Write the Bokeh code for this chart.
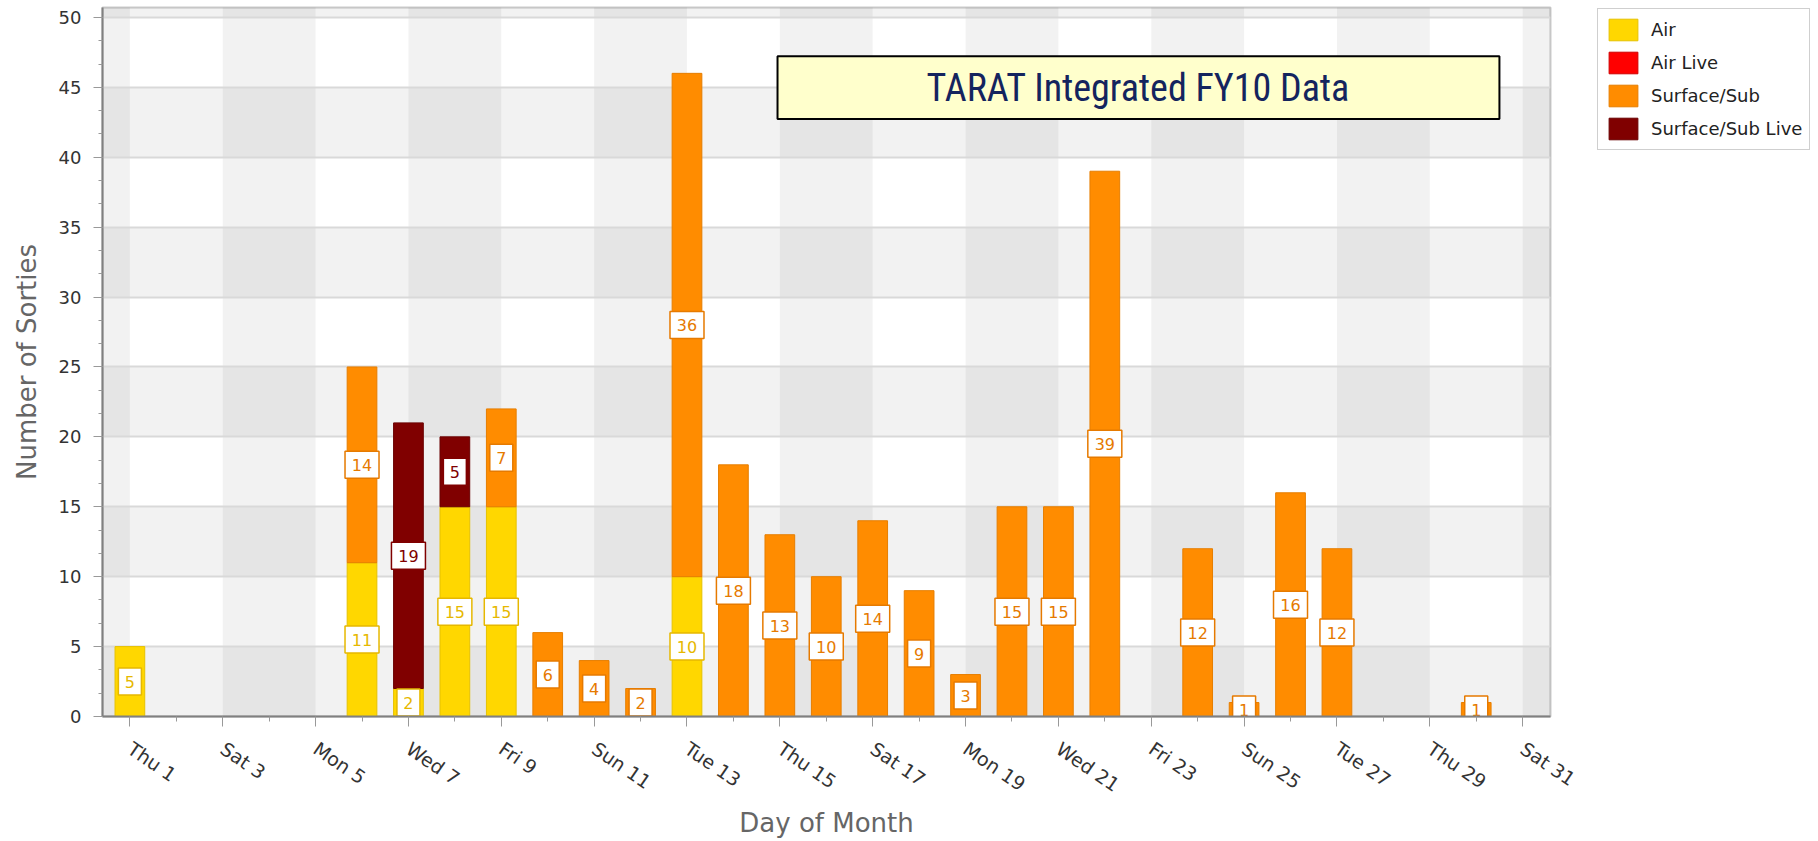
import numpy as np
from bokeh.plotting import figure
from bokeh.layouts import row
from bokeh.models import (ColumnDataSource, FixedTicker, Legend, LegendItem, Range1d,
                          BoxAnnotation, Label, SingleIntervalTicker)
from bokeh.core.properties import value
from bokeh.embed import file_html
from bokeh.resources import INLINE

# ---------------- data ----------------
days = list(range(1, 32))
air          = [5, 0, 0, 0, 0, 11, 2, 15, 15, 0, 0, 0, 10, 0, 0, 0, 0, 0, 0, 0, 0, 0, 0, 0, 0, 0, 0, 0, 0, 0, 0]
air_live     = [0] * 31
surface      = [0, 0, 0, 0, 0, 14, 0, 0, 7, 6, 4, 2, 36, 18, 13, 10, 14, 9, 3, 15, 15, 39, 0, 12, 1, 16, 12, 0, 0, 1, 0]
surface_live = [0, 0, 0, 0, 0, 0, 19, 5, 0, 0, 0, 0, 0, 0, 0, 0, 0, 0, 0, 0, 0, 0, 0, 0, 0, 0, 0, 0, 0, 0, 0]

series_names = ["Air", "Air Live", "Surface/Sub", "Surface/Sub Live"]
tick_days = [1, 3, 5, 7, 9, 11, 13, 15, 17, 19, 21, 23, 25, 27, 29, 31]
tick_labels = ["Thu 1", "Sat 3", "Mon 5", "Wed 7", "Fri 9", "Sun 11", "Tue 13", "Thu 15",
               "Sat 17", "Mon 19", "Wed 21", "Fri 23", "Sun 25", "Tue 27", "Thu 29", "Sat 31"]
minor_days = [2, 4, 6, 8, 10, 12, 14, 16, 18, 20, 22, 24, 26, 28, 30]
title_text = "TARAT Integrated FY10 Data"

# ---------------- styles ----------------
fills = ["#FFD700", "#FF0000", "#FF8C00", "#800000"]
lines = ["#E6C200", "#D00000", "#E67E00", "#6A0000"]
label_colors = ["#E6B800", "#E00000", "#E67A00", "#800000"]
FONT = "DejaVu Sans"

W_MAIN, W_LEG, H = 1596, 222, 841
p = figure(width=W_MAIN, height=H, output_backend="svg", toolbar_location=None,
           x_range=Range1d(0.41, 31.6), y_range=Range1d(0, 50.71),
           min_border_left=102, min_border_right=46, min_border_top=7, min_border_bottom=121)
p.background_fill_color = "white"
p.border_fill_color = "white"
p.outline_line_color = "#cccccc"
p.outline_line_width = 2

# background alternating bands
xb = np.arange(-1, 33, 4)
p.quad(left=xb, right=xb + 2, bottom=-10, top=60, fill_color="black", fill_alpha=0.05,
       line_color=None, level="image")
yb = np.arange(0, 51, 10)
p.quad(left=-5, right=40, bottom=yb, top=yb + 5, fill_color="black", fill_alpha=0.05,
       line_color=None, level="image")

# stacked bars
base = np.zeros(len(days))
x_arr = np.array(days, dtype=float)
label_sources = []
for name, vals, fc, lc in zip(series_names, [air, air_live, surface, surface_live], fills, lines):
    v = np.array(vals, dtype=float)
    m = v > 0
    bar_src = ColumnDataSource(dict(x=x_arr,
                                    bottom=np.where(m, base, np.nan),
                                    top=np.where(m, base + v, np.nan)))
    p.vbar(x="x", bottom="bottom", top="top", width=0.64, source=bar_src,
           fill_color=fc, line_color=lc, line_width=1)
    labs = [str(int(t)) for t in v[m]]
    label_sources.append(ColumnDataSource(dict(x=x_arr[m], mid=(base + v / 2)[m], lab=labs,
                                               bw=[12 + 11 * len(s) for s in labs])))
    base = base + v

for src, tc in zip(label_sources, label_colors):
    p.rect(x="x", y="mid", width="bw", height=27, width_units="screen", height_units="screen",
           source=src, fill_color="white", line_color=tc, line_width=1.5)
    p.text(x="x", y="mid", text="lab", source=src, text_align="center", text_baseline="middle",
           text_font=value(FONT), text_font_size="16px", text_color=tc)

# title box
box = BoxAnnotation(left=14.95, right=30.5, bottom=42.74, top=47.23,
                    fill_color="#FFFFCC", fill_alpha=1, line_color="black", line_alpha=1,
                    line_width=2)
p.add_layout(box)
p.add_layout(Label(x=22.72, y=44.98, text=title_text, text_align="center", text_baseline="middle",
                   text_font="Liberation Sans Narrow, Roboto Condensed, Roboto",
                   text_font_size="38px", text_color="#14245E"))

# axes
xa = p.xaxis[0]
xa.ticker = FixedTicker(ticks=tick_days, minor_ticks=minor_days)
xa.major_label_overrides = dict(zip(tick_days, tick_labels))
xa.major_label_orientation = -0.6
xa.major_label_text_font = FONT
xa.major_label_text_font_size = "19px"
xa.major_label_text_color = "#333333"
xa.major_label_standoff = 20
xa.major_tick_out = 10
xa.major_tick_in = 0
xa.minor_tick_out = 5
xa.minor_tick_in = 0
xa.axis_line_color = "#808080"
xa.axis_line_width = 2
xa.major_tick_line_color = "#999999"
xa.minor_tick_line_color = "#999999"
xa.axis_label = "Day of Month"
xa.axis_label_text_font = FONT
xa.axis_label_text_font_size = "26px"
xa.axis_label_text_font_style = "normal"
xa.axis_label_text_color = "#666666"
xa.axis_label_standoff = 0

ya = p.yaxis[0]
ya.ticker = SingleIntervalTicker(interval=5, num_minor_ticks=3)
ya.major_label_text_font = FONT
ya.major_label_text_font_size = "18px"
ya.major_label_text_color = "#333333"
ya.major_label_standoff = 12
ya.major_tick_out = 9
ya.major_tick_in = 0
ya.minor_tick_out = 4
ya.minor_tick_in = 0
ya.axis_line_color = "#808080"
ya.axis_line_width = 2
ya.major_tick_line_color = "#999999"
ya.minor_tick_line_color = "#999999"
ya.axis_label = "Number of Sorties"
ya.axis_label_text_font = FONT
ya.axis_label_text_font_size = "26px"
ya.axis_label_text_font_style = "normal"
ya.axis_label_text_color = "#666666"
ya.axis_label_standoff = 14

p.xgrid.visible = False
p.ygrid.grid_line_color = "#d9d9d9"
p.ygrid.grid_line_width = 2

# legend panel (separate figure placed to the right of the chart)
pl = figure(width=W_LEG, height=H, output_backend="svg", toolbar_location=None,
            x_range=Range1d(0, 1), y_range=Range1d(0, 1), x_axis_type=None, y_axis_type=None,
            min_border_left=0, min_border_right=0, min_border_top=4, min_border_bottom=0)
pl.outline_line_color = None
pl.background_fill_color = "white"
pl.border_fill_color = "white"
pl.grid.visible = False
leg_renderers = []
for fc, lc in zip(fills, lines):
    leg_renderers.append(pl.vbar(x=[np.nan], top=[np.nan], bottom=[np.nan], width=0.5,
                                 fill_color=fc, line_color=lc, line_width=1))
legend = Legend(items=[LegendItem(label=n, renderers=[r]) for n, r in zip(series_names, leg_renderers)],
                location="top_left", orientation="vertical", glyph_width=36, glyph_height=27,
                label_height=27, spacing=6, padding=7, margin=1, label_standoff=10,
                label_text_font=FONT, label_text_font_size="18px", label_text_color="#222222",
                border_line_color="#a0a0a0", border_line_width=1,
                background_fill_color="white", background_fill_alpha=1)
pl.add_layout(legend)

layout = row(p, pl, spacing=0)
open("out.html", "w").write(file_html(layout, INLINE))
